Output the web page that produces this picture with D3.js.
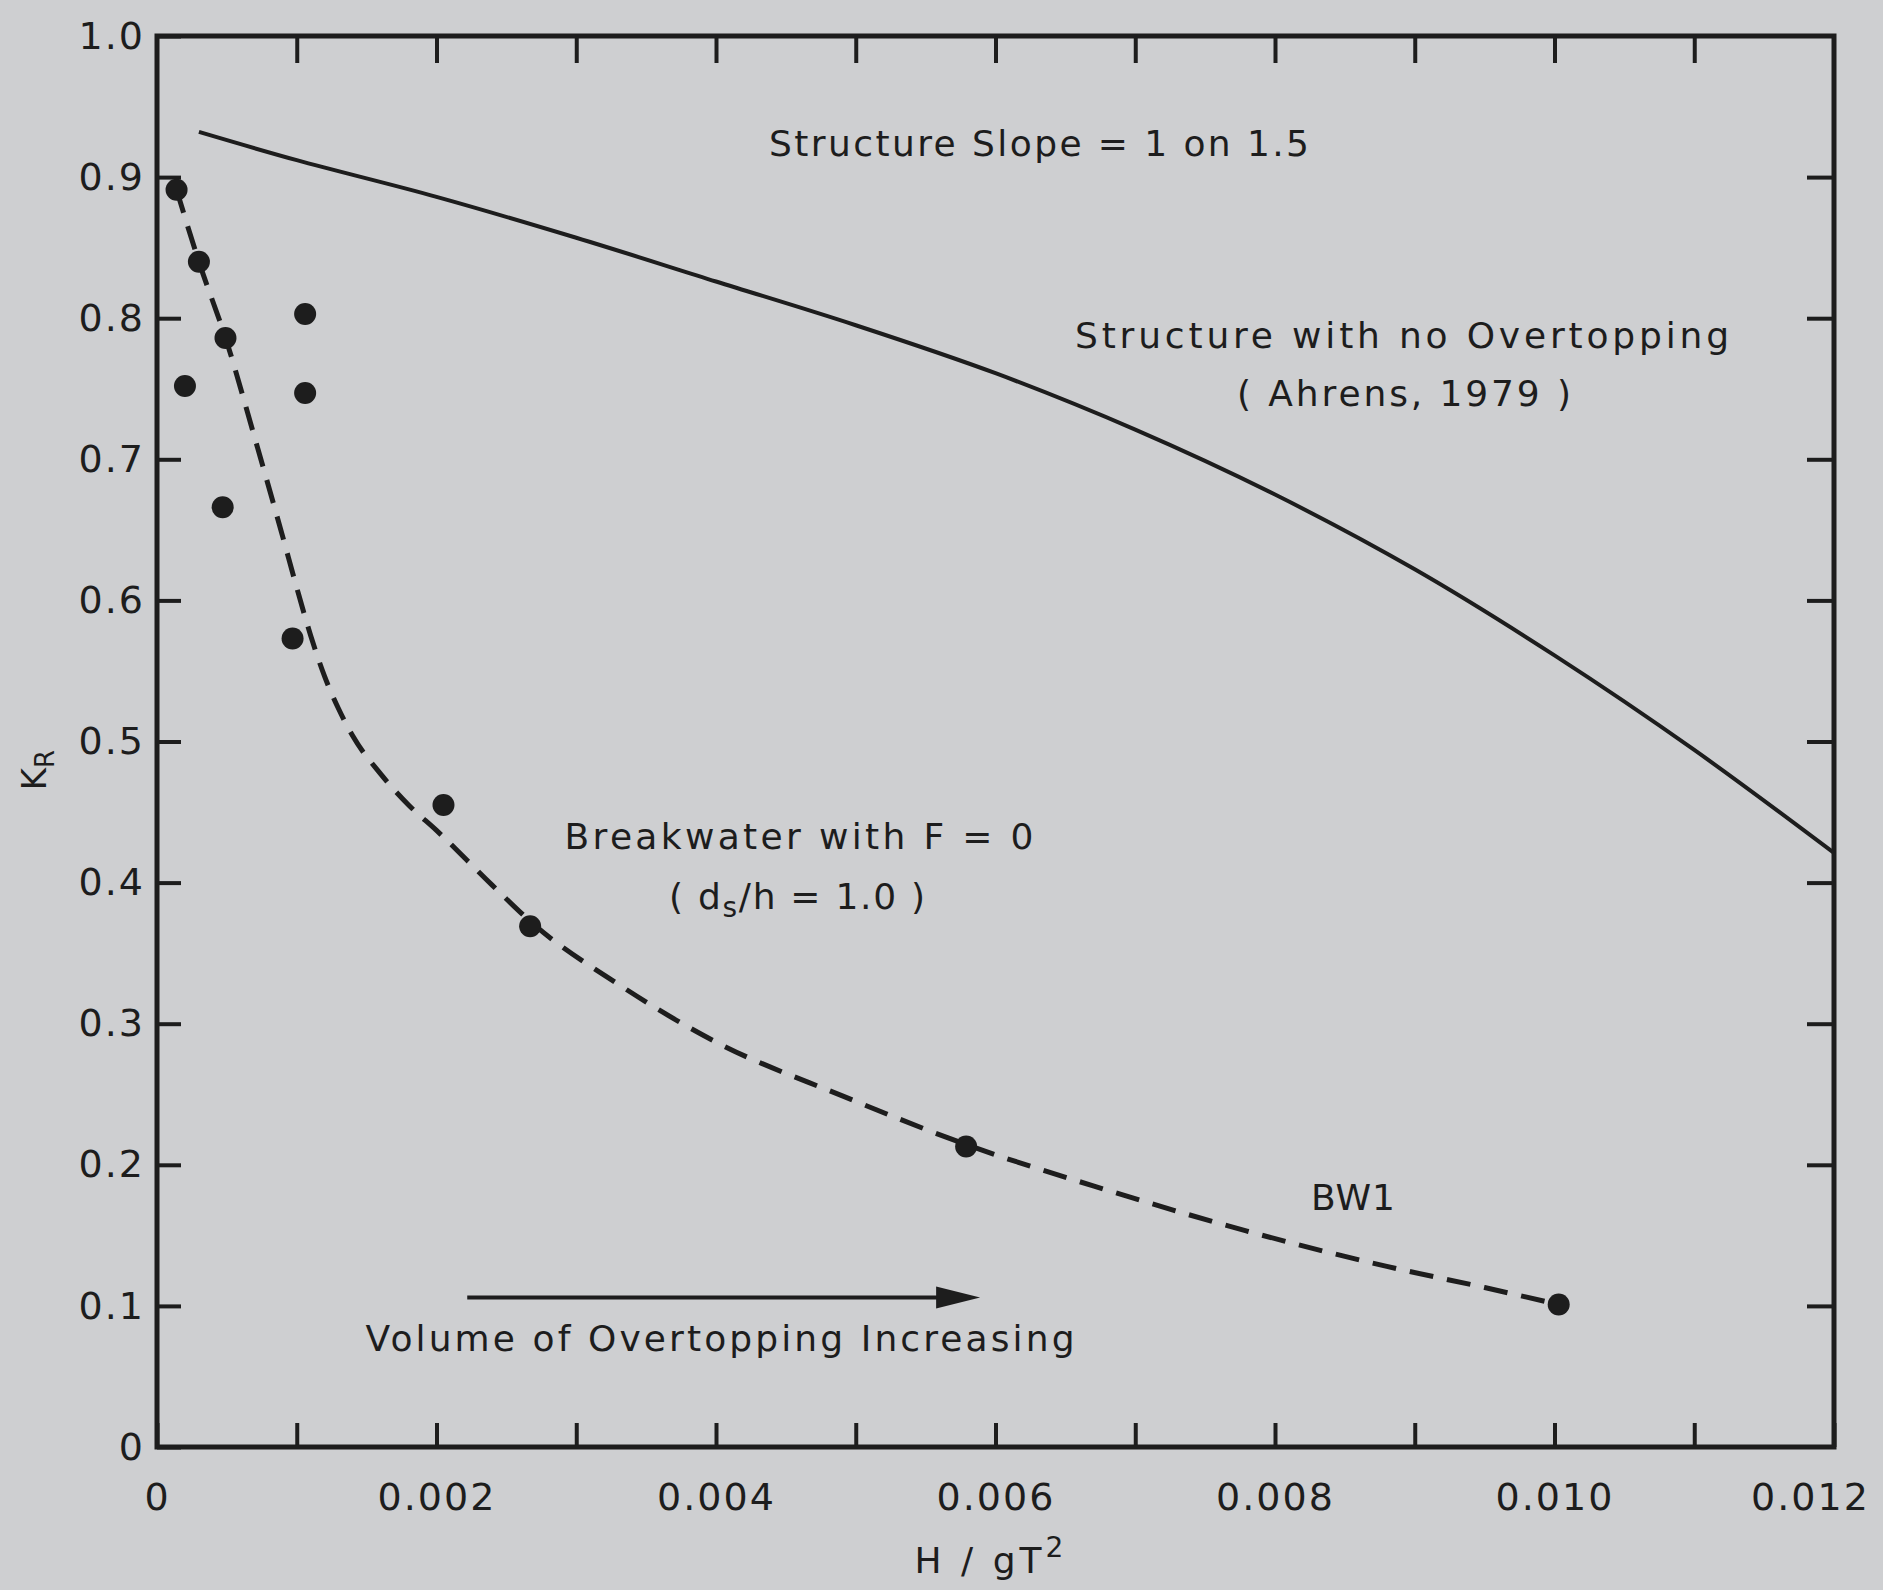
<!DOCTYPE html>
<html><head><meta charset="utf-8">
<script src="https://cdn.jsdelivr.net/npm/d3@7"></script>
<style>
html,body{margin:0;padding:0;background:#cecfd1;}
svg{display:block;}
text{font-family:"DejaVu Sans",sans-serif;fill:#1d1d1d;}
</style></head><body>
<svg id="chart" width="1883" height="1590"></svg>
<script>
// ---- data ----
const xTicks = [0,0.001,0.002,0.003,0.004,0.005,0.006,0.007,0.008,0.009,0.010,0.011,0.012];
const xTickLabels = ["0","","0.002","","0.004","","0.006","","0.008","","0.010","","0.012"];
const yTicks = [0,0.1,0.2,0.3,0.4,0.5,0.6,0.7,0.8,0.9,1.0];
const yTickLabels = ["0","0.1","0.2","0.3","0.4","0.5","0.6","0.7","0.8","0.9","1.0"];

// Structure with no Overtopping (Ahrens, 1979) - solid curve
const ahrensX = [0.0003,0.001,0.002,0.003,0.004,0.005,0.006,0.007,0.008,0.009,0.010,0.011,0.012];
const ahrensY = [0.932,0.912,0.886,0.857,0.826,0.795,0.761,0.721,0.675,0.622,0.561,0.494,0.421];

// Breakwater with F = 0 (BW1) - dashed fitted curve
const bwX = [0.00014,0.0003,0.0005,0.0007,0.0009,0.001,0.0011,0.0012,0.0013,0.0014,0.0016,0.0018,0.002,0.0024,0.0027,0.0033,0.004,0.0049,0.0058,0.0068,0.0078,0.0088,0.0095,0.01003];
const bwY = [0.891,0.840,0.783,0.715,0.645,0.609,0.575,0.546,0.523,0.504,0.477,0.455,0.437,0.398,0.370,0.328,0.287,0.249,0.214,0.182,0.153,0.128,0.113,0.101];

// measured points
const ptX = [0.00014,0.00030,0.00020,0.00049,0.00106,0.00106,0.00047,0.00097,0.00205,0.00267,0.00579,0.01003];
const ptY = [0.891,0.840,0.752,0.786,0.803,0.747,0.666,0.573,0.455,0.369,0.213,0.101];

// arrow "Volume of Overtopping Increasing"
const arrowX = [0.00222,0.00589];
const arrowY = [0.106,0.106];

// ---- layout ----
const W = 1883, H = 1590;
const L = 157, R = 1834, T = 36, B = 1447;
const ink = "#1d1d1d";
const svg = d3.select("#chart");
svg.append("rect").attr("width",W).attr("height",H).attr("fill","#cecfd1");

const x = d3.scaleLinear().domain([0,0.012]).range([L,R]);
const y = d3.scaleLinear().domain([0,1]).range([B,T]);

function styleAxis(g){
  g.select(".domain").remove();
  g.selectAll(".tick line").attr("stroke",ink).attr("stroke-width",4);
  g.selectAll("text").attr("font-size",38).attr("fill",ink)
    .style("font-family",'"DejaVu Sans",sans-serif').style("letter-spacing","2px");
}

// bottom axis
const gx = svg.append("g").attr("transform",`translate(0,${B})`)
  .call(d3.axisBottom(x).tickValues(xTicks).tickSizeInner(-24).tickSizeOuter(0).tickPadding(36)
    .tickFormat((d,i)=>xTickLabels[i]))
  .call(styleAxis);
// keep last label inside the picture, as in the reference
gx.selectAll(".tick text").filter(d=>d===0.012).attr("dx",-24);

// top axis (ticks only)
svg.append("g").attr("transform",`translate(0,${T})`)
  .call(d3.axisTop(x).tickValues(xTicks.slice(1,-1)).tickSizeInner(-27).tickSizeOuter(0).tickFormat(""))
  .call(styleAxis);
// left axis
svg.append("g").attr("transform",`translate(${L},0)`)
  .call(d3.axisLeft(y).tickValues(yTicks).tickSizeInner(-24).tickSizeOuter(0).tickPadding(12)
    .tickFormat((d,i)=>yTickLabels[i]))
  .call(styleAxis);
// right axis (ticks only)
svg.append("g").attr("transform",`translate(${R},0)`)
  .call(d3.axisRight(y).tickValues(yTicks.slice(1,-1)).tickSizeInner(-27).tickSizeOuter(0).tickFormat(""))
  .call(styleAxis);

// frame
svg.append("rect").attr("x",L).attr("y",T).attr("width",R-L).attr("height",B-T)
  .attr("fill","none").attr("stroke",ink).attr("stroke-width",5);

// solid curve
const line = d3.line().x(d=>x(d[0])).y(d=>y(d[1])).curve(d3.curveCatmullRom);
svg.append("path").datum(ahrensX.map((v,i)=>[v,ahrensY[i]]))
  .attr("d",line).attr("fill","none").attr("stroke",ink).attr("stroke-width",4);

// dashed curve
const line2 = d3.line().x(d=>x(d[0])).y(d=>y(d[1])).curve(d3.curveMonotoneX);
svg.append("path").datum(bwX.map((v,i)=>[v,bwY[i]]))
  .attr("d",line2).attr("fill","none").attr("stroke",ink).attr("stroke-width",5)
  .attr("stroke-dasharray","24,14");

// points
svg.append("g").selectAll("circle").data(ptX.map((v,i)=>[v,ptY[i]])).join("circle")
  .attr("cx",d=>x(d[0])).attr("cy",d=>y(d[1])).attr("r",11).attr("fill",ink);

// arrow
const ax0 = x(arrowX[0]), ax1 = x(arrowX[1]), ay = y(arrowY[0]);
svg.append("line").attr("x1",ax0).attr("x2",ax1-36).attr("y1",ay).attr("y2",ay)
  .attr("stroke",ink).attr("stroke-width",4);
svg.append("path").attr("d",`M${ax1},${ay} L${ax1-44},${ay-11} L${ax1-44},${ay+11} Z`).attr("fill",ink);

// annotations
function label(txt, cx, by, len, size){
  return svg.append("text").attr("x",cx).attr("y",by).attr("text-anchor","middle")
    .attr("font-size",size||36).attr("textLength",len).attr("lengthAdjust","spacing").text(txt);
}
label("Structure Slope = 1 on 1.5", 1039, 156, 540);
label("Structure with no Overtopping", 1402, 348, 654);
label("( Ahrens, 1979 )", 1404, 406, 334);
label("Breakwater with F = 0", 799, 849, 469);
label("BW1", 1353, 1210, 84);
label("Volume of Overtopping Increasing", 720, 1351, 709);

const t2 = svg.append("text").attr("x",797).attr("y",909).attr("text-anchor","middle")
  .attr("font-size",36).attr("textLength",256).attr("lengthAdjust","spacing");
t2.append("tspan").text("( d");
t2.append("tspan").attr("font-size",28).attr("dy",8).text("s");
t2.append("tspan").attr("dy",-8).text("/h = 1.0 )");

// x axis title
const xt = svg.append("text").attr("x",991).attr("y",1573).attr("text-anchor","middle")
  .attr("font-size",36).style("letter-spacing","4px");
xt.append("tspan").text("H / gT");
xt.append("tspan").attr("font-size",28).attr("dy",-16).text("2");

// y axis title
const yt = svg.append("text").attr("transform","translate(46,770) rotate(-90)")
  .attr("text-anchor","middle").attr("font-size",34);
yt.append("tspan").text("K");
yt.append("tspan").attr("font-size",26).attr("dy",8).text("R");
</script>
</body></html>
